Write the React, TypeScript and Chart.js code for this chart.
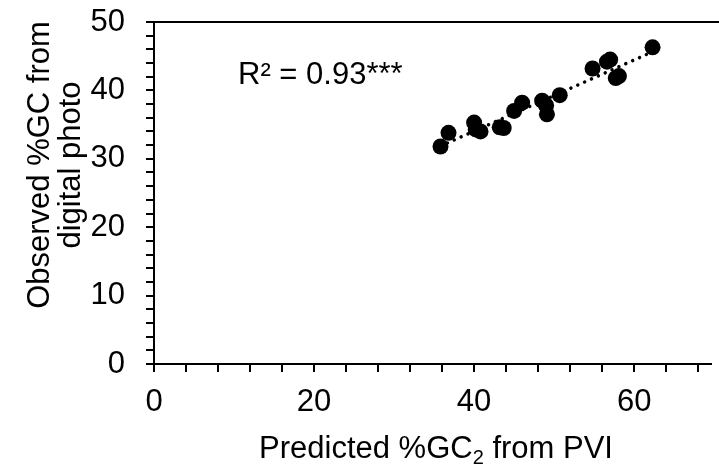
import React, { useEffect, useRef } from "react";
import { Chart, registerables } from "chart.js";

Chart.register(...registerables);

// ---- data ----
const predictedGC = [35.8, 36.8, 40.0, 40.2, 40.8, 43.2, 43.7, 45.0, 46.0, 48.5, 49.0, 49.1, 50.7, 54.8, 56.6, 57.0, 57.7, 58.1, 62.3];
const observedGC = [31.8, 33.8, 35.3, 34.3, 34.0, 34.6, 34.5, 37.0, 38.2, 38.5, 37.8, 36.5, 39.3, 43.2, 44.2, 44.5, 41.8, 42.1, 46.3];

const xMajorTicks = [0, 20, 40, 60];
const xMinorStep = 4;
const yMajorTicks = [0, 10, 20, 30, 40, 50];
const yMinorStep = 2;

const xTitleParts = ["Predicted %GC", "2", " from PVI"];
const yTitleLines = ["Observed %GC from", "digital photo"];
const annotationText = "R² = 0.93***";

const FONT = '"Liberation Sans", Arial, Helvetica, sans-serif';
const FONT_SIZE = 31;

function linearFit(xs: number[], ys: number[]) {
  const n = xs.length;
  const mx = xs.reduce((a, b) => a + b, 0) / n;
  const my = ys.reduce((a, b) => a + b, 0) / n;
  let sxy = 0, sxx = 0;
  for (let i = 0; i < n; i++) {
    sxy += (xs[i] - mx) * (ys[i] - my);
    sxx += (xs[i] - mx) * (xs[i] - mx);
  }
  const slope = sxy / sxx;
  return { slope, intercept: my - slope * mx };
}

function range(min: number, max: number, step: number) {
  const out: number[] = [];
  for (let v = min; v <= max + 1e-9; v += step) out.push(Math.round(v * 1000) / 1000);
  return out;
}

const X_MAX = 69.6;
const Y_MAX = 50;

const overlayPlugin = {
  id: "overlay",
  afterDraw(chart: any) {
    const { ctx, chartArea, scales } = chart;
    ctx.save();
    // top border
    ctx.strokeStyle = "#000";
    ctx.lineWidth = 2;
    ctx.beginPath();
    ctx.moveTo(chartArea.left, chartArea.top);
    ctx.lineTo(chart.width, chartArea.top);
    ctx.stroke();

    ctx.fillStyle = "#000";
    // annotation
    ctx.font = `${FONT_SIZE}px ${FONT}`;
    ctx.textAlign = "left";
    ctx.textBaseline = "alphabetic";
    ctx.fillText(annotationText, scales.x.getPixelForValue(10.5), scales.y.getPixelForValue(40.9));

    // x title with subscript
    const big = `${FONT_SIZE}px ${FONT}`;
    const small = `${Math.round(FONT_SIZE * 0.66)}px ${FONT}`;
    ctx.font = big;
    const w1 = ctx.measureText(xTitleParts[0]).width;
    const w3 = ctx.measureText(xTitleParts[2]).width;
    ctx.font = small;
    const w2 = ctx.measureText(xTitleParts[1]).width;
    const total = w1 + w2 + w3;
    const cx = 436;
    const baseY = 458;
    const x0 = cx - total / 2;
    ctx.font = big;
    ctx.fillText(xTitleParts[0], x0, baseY);
    ctx.font = small;
    ctx.fillText(xTitleParts[1], x0 + w1, baseY + 6);
    ctx.font = big;
    ctx.fillText(xTitleParts[2], x0 + w1 + w2, baseY);

    // y title (two lines, rotated)
    ctx.font = big;
    ctx.textAlign = "center";
    const cy = 165;
    const baselines = [49, 80];
    yTitleLines.forEach((line, i) => {
      ctx.save();
      ctx.translate(baselines[i], cy);
      ctx.rotate(-Math.PI / 2);
      ctx.fillText(line, 0, 0);
      ctx.restore();
    });
    ctx.restore();
  },
};

export default function App() {
  const canvasRef = useRef<HTMLCanvasElement | null>(null);

  useEffect(() => {
    document.body.style.margin = "0";
    const canvas = canvasRef.current;
    if (!canvas) return;
    const points = predictedGC.map((x, i) => ({ x, y: observedGC[i] }));
    const fit = linearFit(predictedGC, observedGC);
    const xMin = Math.min(...predictedGC);
    const xMax = Math.max(...predictedGC);
    const trend = [
      { x: xMin, y: fit.intercept + fit.slope * xMin },
      { x: xMax, y: fit.intercept + fit.slope * xMax },
    ];

    const chart = new Chart(canvas, {
      type: "scatter",
      data: {
        datasets: [
          {
            label: "data",
            data: points,
            pointRadius: 8,
            pointHoverRadius: 8,
            backgroundColor: "#000",
            borderColor: "#000",
            borderWidth: 0,
            order: 2,
          },
          {
            type: "line",
            label: "trend",
            data: trend,
            borderColor: "#000",
            borderWidth: 3.5,
            borderDash: [0.01, 7.5],
            borderCapStyle: "round",
            pointRadius: 0,
            fill: false,
            order: 1,
          } as any,
        ],
      },
      options: {
        responsive: false,
        animation: false,
        events: [],
        layout: { padding: { top: 22, right: 0, left: 0, bottom: 0 } },
        plugins: {
          legend: { display: false },
          tooltip: { enabled: false },
          title: { display: false },
        },
        scales: {
          x: {
            type: "linear",
            min: 0,
            max: X_MAX,
            afterBuildTicks: (scale: any) => {
              scale.ticks = range(0, 68, xMinorStep).map((v) => ({ value: v }));
            },
            afterFit: (scale: any) => {
              scale.height = 105;
              scale.paddingLeft = 0;
              scale.paddingRight = 0;
            },
            grid: {
              display: true,
              drawOnChartArea: false,
              drawTicks: true,
              tickLength: 8,
              color: "#000",
              lineWidth: 2,
            },
            border: { display: true, color: "#000", width: 2 },
            ticks: {
              autoSkip: false,
              maxRotation: 0,
              minRotation: 0,
              padding: 12,
              color: "#000",
              font: { family: FONT, size: FONT_SIZE },
              callback: (v: any) => (xMajorTicks.includes(Number(v)) ? String(v) : ""),
            },
          },
          y: {
            type: "linear",
            min: 0,
            max: Y_MAX,
            afterBuildTicks: (scale: any) => {
              scale.ticks = range(0, Y_MAX, yMinorStep).map((v) => ({ value: v }));
            },
            afterFit: (scale: any) => {
              scale.width = 154;
              scale.paddingTop = 0;
              scale.paddingBottom = 0;
            },
            grid: {
              display: true,
              drawOnChartArea: false,
              drawTicks: true,
              tickLength: 8,
              color: "#000",
              lineWidth: 2,
            },
            border: { display: true, color: "#000", width: 2 },
            ticks: {
              autoSkip: false,
              padding: 21,
              color: "#000",
              font: { family: FONT, size: FONT_SIZE },
              callback: (v: any) => (yMajorTicks.includes(Number(v)) ? String(v) : ""),
            },
          },
        },
      },
      plugins: [overlayPlugin],
    });
    return () => chart.destroy();
  }, []);

  return (
    <div style={{ width: 719, height: 469, background: "#fff" }}>
      <canvas ref={canvasRef} width={719} height={469} style={{ display: "block" }} />
    </div>
  );
}
